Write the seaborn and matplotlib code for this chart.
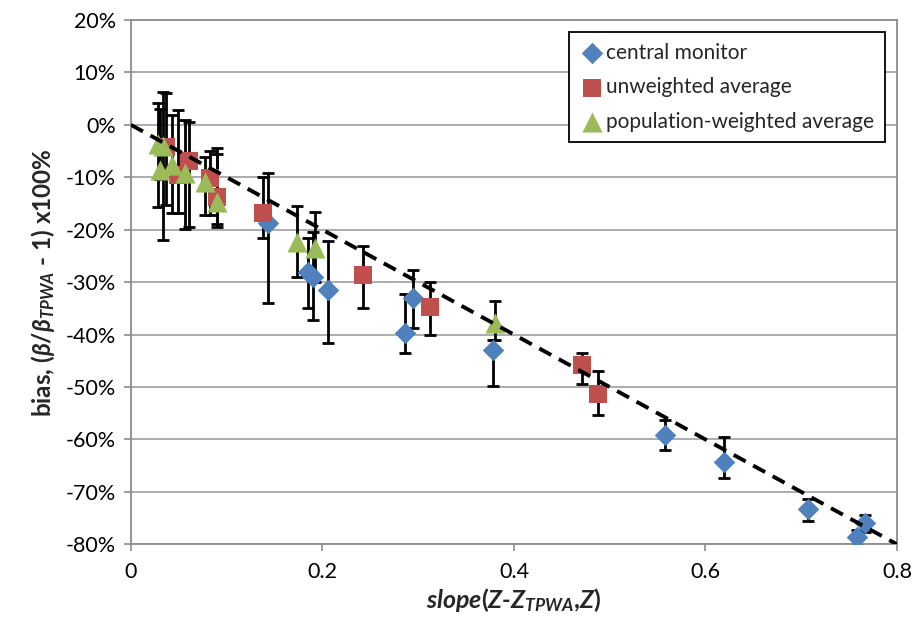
import numpy as np
import pandas as pd
import matplotlib
matplotlib.use("Agg")
import matplotlib.pyplot as plt
import seaborn as sns
from matplotlib.ticker import FuncFormatter

# ---- data (bias in %) ----
cm_x = [0.1435, 0.185, 0.1905, 0.206, 0.286, 0.295, 0.3786, 0.558, 0.6197, 0.707, 0.767, 0.758]
cm_y = [-18.8, -28.0, -29.0, -31.5, -39.7, -33.0, -43.0, -59.2, -64.3, -73.2, -76.0, -78.6]
cm_lo = [-33.9, -34.9, -37.2, -41.7, -43.6, -38.8, -49.8, -62.0, -67.3, -75.6, -77.6, -80.0]
cm_hi = [-9.1, -21.6, -20.4, -22.1, -32.3, -27.6, -41.0, -56.3, -59.5, -71.3, -74.4, -77.2]

uw_x = [0.037, 0.049, 0.0606, 0.0822, 0.0902, 0.138, 0.2427, 0.3124, 0.4716, 0.4873]
uw_y = [-4.2, -9.6, -6.9, -10.2, -13.7, -16.9, -28.6, -34.7, -45.8, -51.4]
uw_lo = [-15.3, -16.9, -19.4, -17.2, -19.4, -21.6, -34.9, -40.1, -49.4, -55.3]
uw_hi = [6.0, 2.8, 0.6, -4.9, -4.5, -10.0, -23.1, -29.9, -43.5, -46.9]

pw_x = [0.0285, 0.033, 0.030, 0.0425, 0.0564, 0.077, 0.090, 0.173, 0.192, 0.380]
pw_y = [-3.6, -4.0, -8.6, -7.6, -9.2, -10.8, -14.7, -22.3, -23.5, -37.7]
pw_lo = [-15.6, -22.0, -10.3, -16.8, -19.9, -17.2, -19.0, -29.1, -30.0, -41.0]
pw_hi = [4.1, 6.3, 3.0, 1.9, 0.9, -6.1, -5.5, -15.5, -16.6, -33.6]

series_names = ["central monitor", "unweighted average", "population-weighted average"]
trend_x = [0.0, 0.8]
trend_y = [0.0, -80.0]

y_ticks = list(range(-80, 30, 10))
x_ticks = [0, 0.2, 0.4, 0.6, 0.8]
x_tick_labels = ["0", "0.2", "0.4", "0.6", "0.8"]

# ---- style ----
sns.set_theme(style="white")
plt.rcParams["font.family"] = ["Lato", "DejaVu Sans"]
plt.rcParams["mathtext.fontset"] = "custom"
plt.rcParams["mathtext.it"] = "Lato:style=italic:weight=bold"
plt.rcParams["mathtext.rm"] = "Lato:weight=bold"
plt.rcParams["mathtext.bf"] = "Lato:weight=bold"

colors = ["#4F81BD", "#C0504D", "#9BBB59"]
markers = ["D", "s", "^"]
msizes = [120, 160, 210]

frames = []
for name, xs, ys, lo, hi in [
    (series_names[0], cm_x, cm_y, cm_lo, cm_hi),
    (series_names[1], uw_x, uw_y, uw_lo, uw_hi),
    (series_names[2], pw_x, pw_y, pw_lo, pw_hi),
]:
    frames.append(pd.DataFrame({"x": xs, "y": ys, "lo": lo, "hi": hi, "series": name}))
df = pd.concat(frames, ignore_index=True)

fig = plt.figure(figsize=(9.18, 6.27), dpi=100)
ax = fig.add_axes([0.1427, 0.132, 0.8343, 0.836])

# error bars
for name in series_names:
    d = df[df.series == name]
    ax.errorbar(d.x, d.y, yerr=[d.y - d.lo, d.hi - d.y], fmt="none",
                ecolor="black", elinewidth=2.0, capsize=4.5, capthick=2.0, zorder=2)

# markers
for name, c, m, s in zip(series_names, colors, markers, msizes):
    d = df[df.series == name]
    sns.scatterplot(data=d, x="x", y="y", color=c, marker=m, s=s, linewidth=0,
                    label=name, ax=ax, zorder=3)

# trend line
ax.plot(trend_x, trend_y, color="black", linestyle=(0, (3.5, 2.2)), linewidth=2.8, zorder=4)

ax.set_xlim(0, 0.8)
ax.set_ylim(-80, 20)
ax.set_yticks(y_ticks)
ax.yaxis.set_major_formatter(FuncFormatter(lambda v, p: f"{v:.0f}%"))
ax.set_xticks(x_ticks)
ax.set_xticklabels(x_tick_labels)
ax.tick_params(axis="both", labelsize=15.5, colors="black", length=5, width=1.2,
               direction="out", color="#8c8c8c")
ax.tick_params(axis="y", left=True, pad=6)
ax.tick_params(axis="x", bottom=True, pad=8)

ax.grid(axis="y", color="#a6a6a6", linewidth=1.3)
ax.grid(axis="x", visible=False)
ax.set_axisbelow(True)
for sp in ax.spines.values():
    sp.set_color("#8c8c8c")
    sp.set_linewidth(1.3)

ax.set_xlabel(r"$slope(Z$-$Z_{TPWA}{,}Z)$", fontsize=18, fontweight="bold",
              fontstyle="italic", labelpad=3)
ax.set_ylabel(r"bias, ($\beta$/$\beta_{TPWA}$ - 1) x100%", fontsize=17.5,
              fontweight="bold", labelpad=6)

leg = ax.legend(loc="upper right", bbox_to_anchor=(0.984, 0.977), fontsize=15,
                frameon=True, fancybox=False, edgecolor="black", framealpha=1,
                handletextpad=0.1, labelspacing=0.7, borderpad=0.5, handlelength=1.2,
                borderaxespad=0)
leg.get_frame().set_linewidth(1.3)

fig.savefig("out.png", dpi=100)
